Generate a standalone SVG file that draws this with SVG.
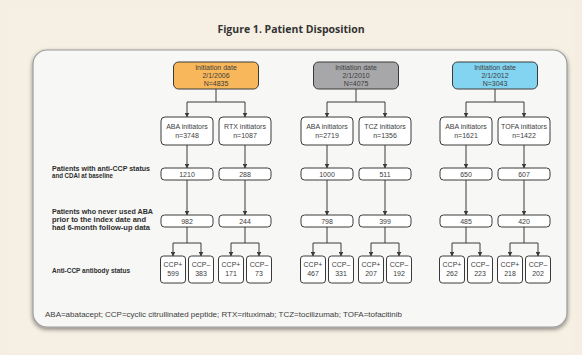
<svg xmlns="http://www.w3.org/2000/svg" width="582" height="355" viewBox="0 0 582 355">
<defs>
<style>
.box{fill:#ffffff;stroke:#3a3a3a;stroke-width:1}
.t{font-family:"Liberation Sans",Arial,sans-serif;font-size:7px;fill:#3d3d3d;text-anchor:middle}
.lbl{font-family:"Liberation Sans",Arial,sans-serif;font-size:6.8px;font-weight:bold;fill:#2e2e2e}
.c{fill:none;stroke:#3a3a3a;stroke-width:1}
.a{marker-end:url(#arr)}
</style>
<marker id="arr" markerWidth="5" markerHeight="5" refX="4.5" refY="2.5" orient="auto" markerUnits="userSpaceOnUse">
<path d="M0,0 L5,2.5 L0,5 z" fill="#3a3a3a"/>
</marker>
<filter id="sh" x="-5%" y="-5%" width="110%" height="115%">
<feGaussianBlur in="SourceAlpha" stdDeviation="2"/>
<feOffset dx="0" dy="1.5" result="b"/>
<feFlood flood-color="#000" flood-opacity="0.45"/>
<feComposite in2="b" operator="in"/>
<feMerge><feMergeNode/><feMergeNode in="SourceGraphic"/></feMerge>
</filter>
</defs>
<rect x="0" y="0" width="582" height="355" fill="#f5eee2"/>
<rect x="8" y="8" width="566" height="345" fill="#f6efe3"/>
<text x="291" y="33" font-family="'Open Sans','Liberation Sans',Arial,sans-serif" font-size="10.5" font-weight="bold" fill="#333" text-anchor="middle">Figure 1. Patient Disposition</text>
<rect x="33" y="50" width="534" height="277" rx="14" fill="#f7f7f5" stroke="#9a9a9a" stroke-width="1.2" filter="url(#sh)"/>

<g id="connectors">
<path class="c" d="M216,89 V102 M187,102 H245"/>
<path class="c a" d="M187,102 V117"/>
<path class="c a" d="M245,102 V117"/>
<path class="c a" d="M187,145 V168"/>
<path class="c a" d="M245,145 V168"/>
<path class="c a" d="M187,180 V215"/>
<path class="c a" d="M245,180 V215"/>
<path class="c" d="M187,227 V243 M173,243 H201 M245,227 V243 M231,243 H259"/>
<path class="c a" d="M173,243 V256"/><path class="c a" d="M201,243 V256"/>
<path class="c a" d="M231,243 V256"/><path class="c a" d="M259,243 V256"/>
<path class="c" d="M356,89 V102 M327,102 H385"/>
<path class="c a" d="M327,102 V117"/>
<path class="c a" d="M385,102 V117"/>
<path class="c a" d="M327,145 V168"/>
<path class="c a" d="M385,145 V168"/>
<path class="c a" d="M327,180 V215"/>
<path class="c a" d="M385,180 V215"/>
<path class="c" d="M327,227 V243 M313,243 H341 M385,227 V243 M371,243 H399"/>
<path class="c a" d="M313,243 V256"/><path class="c a" d="M341,243 V256"/>
<path class="c a" d="M371,243 V256"/><path class="c a" d="M399,243 V256"/>
<path class="c" d="M495,89 V102 M466,102 H524"/>
<path class="c a" d="M466,102 V117"/>
<path class="c a" d="M524,102 V117"/>
<path class="c a" d="M466,145 V168"/>
<path class="c a" d="M524,145 V168"/>
<path class="c a" d="M466,180 V215"/>
<path class="c a" d="M524,180 V215"/>
<path class="c" d="M466,227 V243 M452,243 H480 M524,227 V243 M510,243 H538"/>
<path class="c a" d="M452,243 V256"/><path class="c a" d="M480,243 V256"/>
<path class="c a" d="M510,243 V256"/><path class="c a" d="M538,243 V256"/>
</g>

<g id="init2006"><rect x="173.5" y="62" width="85" height="27" rx="5" fill="#f8b75a" stroke="#3a3a3a"/>
<text class="t" x="216" y="70">Initiation date</text><text class="t" x="216" y="78">2/1/2006</text><text class="t" x="216" y="86">N=4835</text></g>
<g id="init2010"><rect x="313.5" y="62" width="85" height="27" rx="5" fill="#a7a7a9" stroke="#3a3a3a"/>
<text class="t" x="356" y="70">Initiation date</text><text class="t" x="356" y="78">2/1/2010</text><text class="t" x="356" y="86">N=4075</text></g>
<g id="init2012"><rect x="452.5" y="62" width="85" height="27" rx="5" fill="#83d4f1" stroke="#3a3a3a"/>
<text class="t" x="495" y="70">Initiation date</text><text class="t" x="495" y="78">2/1/2012</text><text class="t" x="495" y="86">N=3043</text></g>

<g id="aba1"><rect class="box" x="161" y="117" width="52" height="28" rx="4"/><text class="t" x="187" y="129">ABA initiators</text><text class="t" x="187" y="137.5">n=3748</text></g>
<g id="rtx"><rect class="box" x="219" y="117" width="52" height="28" rx="4"/><text class="t" x="245" y="129">RTX initiators</text><text class="t" x="245" y="137.5">n=1087</text></g>
<g id="aba2"><rect class="box" x="301" y="117" width="52" height="28" rx="4"/><text class="t" x="327" y="129">ABA initiators</text><text class="t" x="327" y="137.5">n=2719</text></g>
<g id="tcz"><rect class="box" x="359" y="117" width="52" height="28" rx="4"/><text class="t" x="385" y="129">TCZ initiators</text><text class="t" x="385" y="137.5">n=1356</text></g>
<g id="aba3"><rect class="box" x="440" y="117" width="52" height="28" rx="4"/><text class="t" x="466" y="129">ABA initiators</text><text class="t" x="466" y="137.5">n=1621</text></g>
<g id="tofa"><rect class="box" x="498" y="117" width="52" height="28" rx="4"/><text class="t" x="524" y="129">TOFA initiators</text><text class="t" x="524" y="137.5">n=1422</text></g>

<g id="label-baseline"><text class="lbl" x="52" y="170.5" textLength="98" lengthAdjust="spacingAndGlyphs">Patients with anti-CCP status</text><text class="lbl" x="52" y="178.3" textLength="61" lengthAdjust="spacingAndGlyphs">and CDAI at baseline</text></g>
<g id="label-never"><text class="lbl" x="52" y="214" textLength="101" lengthAdjust="spacingAndGlyphs">Patients who never used ABA</text><text class="lbl" x="52" y="221.8" textLength="94" lengthAdjust="spacingAndGlyphs">prior to the index date and</text><text class="lbl" x="52" y="229.6" textLength="98" lengthAdjust="spacingAndGlyphs">had 6-month follow-up data</text></g>
<g id="label-status"><text class="lbl" x="52" y="273" textLength="78" lengthAdjust="spacingAndGlyphs">Anti-CCP antibody status</text></g>

<g id="b1210"><rect class="box" x="161" y="168" width="52" height="12" rx="3.5"/><text class="t" x="187" y="176.5">1210</text></g>
<g id="b288"><rect class="box" x="219" y="168" width="52" height="12" rx="3.5"/><text class="t" x="245" y="176.5">288</text></g>
<g id="b1000"><rect class="box" x="301" y="168" width="52" height="12" rx="3.5"/><text class="t" x="327" y="176.5">1000</text></g>
<g id="b511"><rect class="box" x="359" y="168" width="52" height="12" rx="3.5"/><text class="t" x="385" y="176.5">511</text></g>
<g id="b650"><rect class="box" x="440" y="168" width="52" height="12" rx="3.5"/><text class="t" x="466" y="176.5">650</text></g>
<g id="b607"><rect class="box" x="498" y="168" width="52" height="12" rx="3.5"/><text class="t" x="524" y="176.5">607</text></g>

<g id="f982"><rect class="box" x="161" y="215" width="52" height="12" rx="3.5"/><text class="t" x="187" y="223.5">982</text></g>
<g id="f244"><rect class="box" x="219" y="215" width="52" height="12" rx="3.5"/><text class="t" x="245" y="223.5">244</text></g>
<g id="f798"><rect class="box" x="301" y="215" width="52" height="12" rx="3.5"/><text class="t" x="327" y="223.5">798</text></g>
<g id="f399"><rect class="box" x="359" y="215" width="52" height="12" rx="3.5"/><text class="t" x="385" y="223.5">399</text></g>
<g id="f485"><rect class="box" x="440" y="215" width="52" height="12" rx="3.5"/><text class="t" x="466" y="223.5">485</text></g>
<g id="f420"><rect class="box" x="498" y="215" width="52" height="12" rx="3.5"/><text class="t" x="524" y="223.5">420</text></g>

<g id="p599"><rect class="box" x="160.5" y="256" width="25" height="27" rx="3"/><text class="t" x="173" y="267">CCP+</text><text class="t" x="173" y="275.5">599</text></g>
<g id="n383"><rect class="box" x="188.5" y="256" width="25" height="27" rx="3"/><text class="t" x="201" y="267">CCP–</text><text class="t" x="201" y="275.5">383</text></g>
<g id="p171"><rect class="box" x="218.5" y="256" width="25" height="27" rx="3"/><text class="t" x="231" y="267">CCP+</text><text class="t" x="231" y="275.5">171</text></g>
<g id="n73"><rect class="box" x="246.5" y="256" width="25" height="27" rx="3"/><text class="t" x="259" y="267">CCP–</text><text class="t" x="259" y="275.5">73</text></g>
<g id="p467"><rect class="box" x="300.5" y="256" width="25" height="27" rx="3"/><text class="t" x="313" y="267">CCP+</text><text class="t" x="313" y="275.5">467</text></g>
<g id="n331"><rect class="box" x="328.5" y="256" width="25" height="27" rx="3"/><text class="t" x="341" y="267">CCP–</text><text class="t" x="341" y="275.5">331</text></g>
<g id="p207"><rect class="box" x="358.5" y="256" width="25" height="27" rx="3"/><text class="t" x="371" y="267">CCP+</text><text class="t" x="371" y="275.5">207</text></g>
<g id="n192"><rect class="box" x="386.5" y="256" width="25" height="27" rx="3"/><text class="t" x="399" y="267">CCP–</text><text class="t" x="399" y="275.5">192</text></g>
<g id="p262"><rect class="box" x="439.5" y="256" width="25" height="27" rx="3"/><text class="t" x="452" y="267">CCP+</text><text class="t" x="452" y="275.5">262</text></g>
<g id="n223"><rect class="box" x="467.5" y="256" width="25" height="27" rx="3"/><text class="t" x="480" y="267">CCP–</text><text class="t" x="480" y="275.5">223</text></g>
<g id="p218"><rect class="box" x="497.5" y="256" width="25" height="27" rx="3"/><text class="t" x="510" y="267">CCP+</text><text class="t" x="510" y="275.5">218</text></g>
<g id="n202"><rect class="box" x="525.5" y="256" width="25" height="27" rx="3"/><text class="t" x="538" y="267">CCP–</text><text class="t" x="538" y="275.5">202</text></g>

<text x="45" y="316.5" font-family="'Liberation Sans',Arial,sans-serif" font-size="6.8" fill="#3d3d3d" textLength="357" lengthAdjust="spacingAndGlyphs">ABA=abatacept; CCP=cyclic citrullinated peptide; RTX=rituximab; TCZ=tocilizumab; TOFA=tofacitinib</text>
</svg>
